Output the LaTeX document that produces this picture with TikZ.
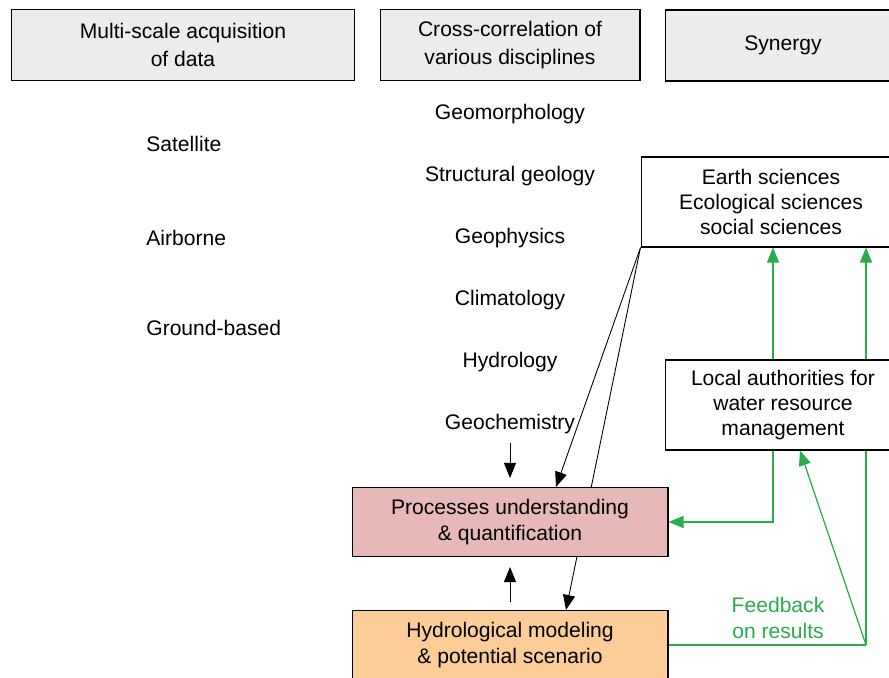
\documentclass[tikz,border=0pt]{standalone}
\usepackage{fontspec}
\setmainfont{Liberation Sans}
\usetikzlibrary{positioning}
\usetikzlibrary{arrows.meta}
\usetikzlibrary{backgrounds}

\definecolor{headgray}{RGB}{236,236,238}
\definecolor{procpink}{RGB}{230,185,184}
\definecolor{modorange}{RGB}{252,204,153}
\definecolor{fbgreen}{RGB}{40,172,76}

\begin{document}
\begin{tikzpicture}[x=0.02cm, y=-0.02cm, font=\fontsize{12}{14.4}\selectfont,
    >={Triangle[length=3mm,width=2.4mm]},
    headbox/.style={draw, line width=0.6pt, fill=headgray, align=center, minimum height=1.42cm,
        font=\fontsize{12}{15.6}\selectfont},
    sbox/.style={draw, line width=0.6pt, fill=white, align=center, minimum height=1.8cm},
    procbox/.style={draw, line width=0.6pt, align=center, minimum width=6.32cm, minimum height=1.38cm},
    discipline/.style={on grid, inner sep=0pt, text height=9pt, text depth=3pt},
    flow/.style={->, line width=0.5pt},
    fb/.style={->, line width=0.7pt, color=fbgreen}]
    \useasboundingbox (0,0) rectangle (889,677);
    \clip (0,0) rectangle (889,677);
    % column heads
    \node [headbox, minimum width=6.88cm] (acq) at (183,45) {Multi-scale acquisition\\of data};
    \node [headbox, minimum width=5.2cm] (cross) at (510,45) {Cross-correlation of\\various disciplines};
    \node [headbox, minimum width=4.72cm] (syn) at (783,45.5) {Synergy};
    % acquisition
    \node [anchor=west, inner sep=0pt] (sat) at (146,143.5) {Satellite};
    \node [anchor=west, inner sep=0pt] (air) at (146,237.5) {Airborne};
    \node [anchor=west, inner sep=0pt] (ground) at (146,327.5) {Ground-based};
    % disciplines
    \node [discipline] (geomor) at (510,114.5) {Geomorphology};
    \node [discipline, below=1.24cm of geomor] (structgeo) {Structural geology};
    \node [discipline, below=1.24cm of structgeo] (geophys) {Geophysics};
    \node [discipline, below=1.24cm of geophys] (clim) {Climatology};
    \node [discipline, below=1.24cm of clim] (hydrol) {Hydrology};
    \node [discipline, below=1.24cm of hydrol] (geochem) {Geochemistry};
    % synergy
    \node [sbox, minimum width=5.2cm] (earth) at (771,202) {Earth sciences\\Ecological sciences\\social sciences};
    \node [sbox, minimum width=4.72cm] (local) at (783,405) {Local authorities for\\water resource\\management};
    \node [procbox, fill=procpink] (proc) at (510,522) {Processes understanding\\\& quantification};
    \node [procbox, fill=modorange] (hydro) at (510,645) {Hydrological modeling\\\& potential scenario};
    \node [text=fbgreen, align=center] (fbtext) at (778,618) {Feedback\\on results};
    \coordinate (fbcorner) at (866,645);

    \draw[flow, shorten <=0.15cm, shorten >=0.18cm] (geochem) -- (proc);
    \draw[flow, shorten <=0.16cm, shorten >=0.2cm] (hydro) -- (proc);
    \draw[flow] (earth.south west) -- ([xshift=0.92cm]proc.north);
    \draw[fb] ([xshift=-0.2cm]local.north) -- ([xshift=-0.2cm]local.north |- earth.south);
    \draw[fb] ([xshift=-0.2cm]local.south) |- (proc.east);
    \draw[fb] (fbcorner) -- ([xshift=0.34cm]local.south);
    \draw[fb, -] (hydro.east) -- (fbcorner);
    \begin{pgfonlayer}{background}
        \draw[flow] (earth.south west) -- ([xshift=1.12cm]hydro.north);
        \draw[fb] (fbcorner) -- (fbcorner |- earth.south);
    \end{pgfonlayer}
\end{tikzpicture}
\end{document}
